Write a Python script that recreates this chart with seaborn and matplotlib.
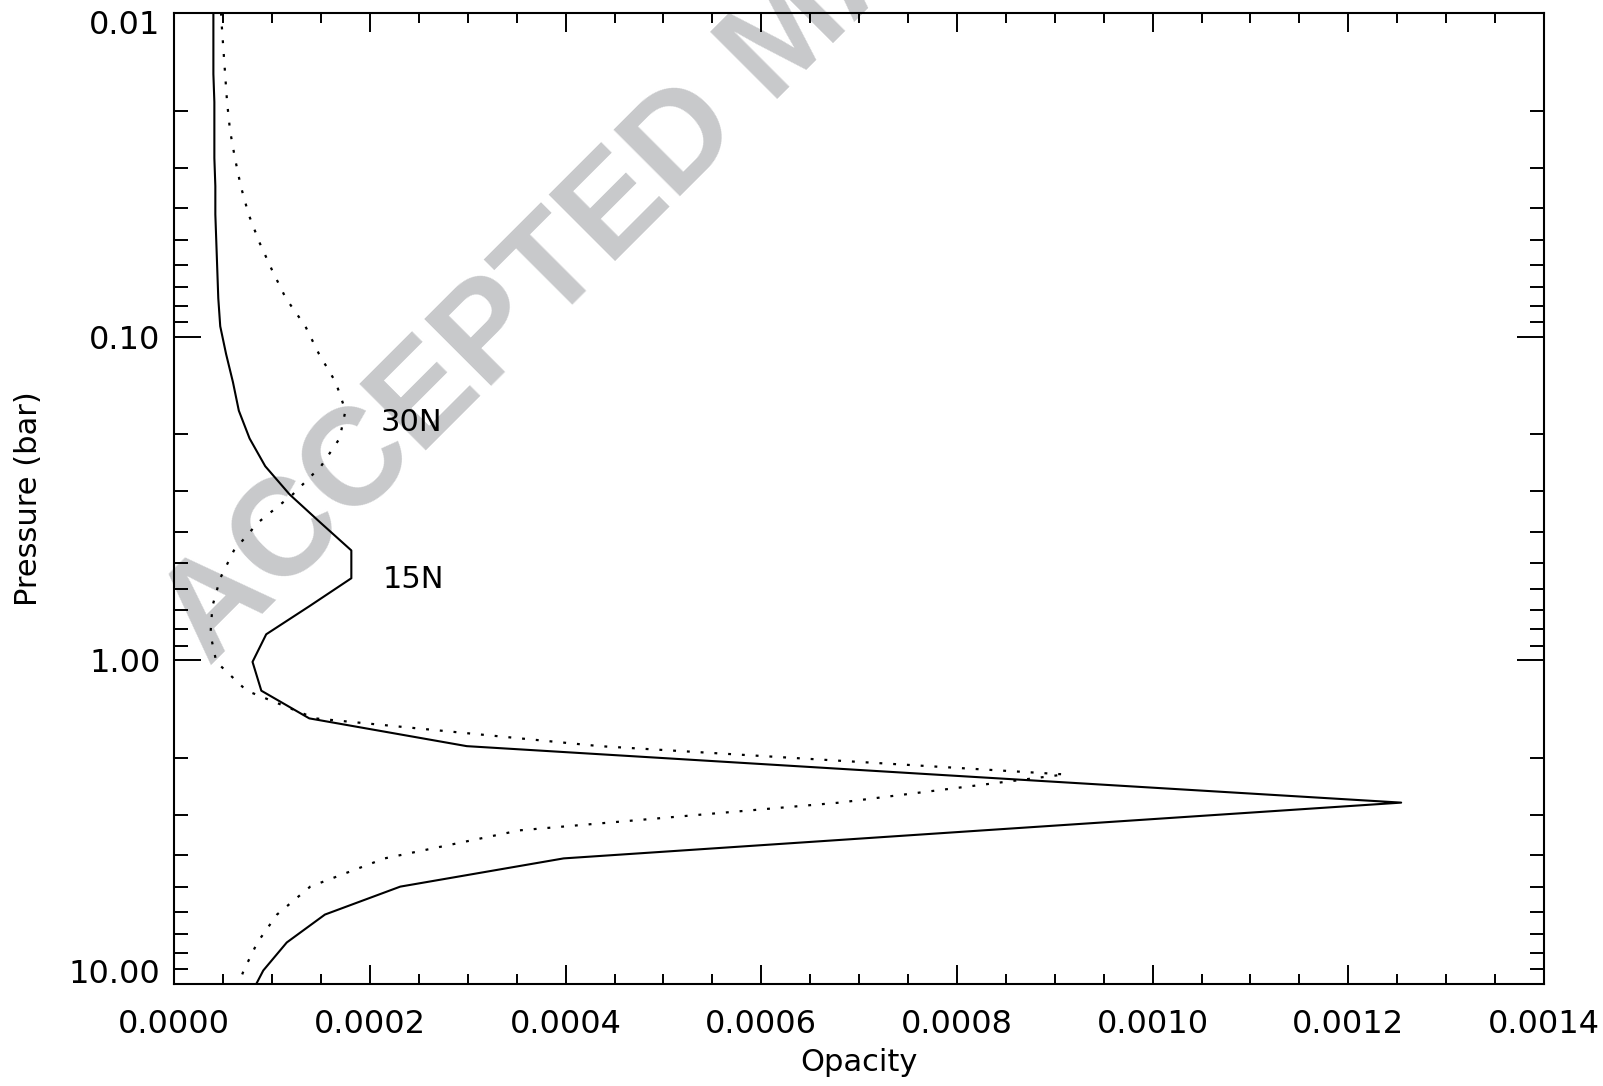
import numpy as np
import pandas as pd
import matplotlib
matplotlib.use("Agg")
import matplotlib.pyplot as plt
import matplotlib.ticker as mticker
import matplotlib.transforms as mtransforms
import seaborn as sns

# Pressure grid (bar) shared by both profiles
pressure = [0.00847, 0.0103, 0.0126, 0.0154, 0.0188, 0.0230, 0.0280, 0.0342,
            0.0418, 0.0510, 0.0622, 0.0759, 0.0927, 0.113, 0.138, 0.169,
            0.206, 0.251, 0.307, 0.374, 0.457, 0.557, 0.680, 0.830,
            1.01, 1.24, 1.51, 1.84, 2.25, 2.75, 3.35, 4.09,
            5.00, 6.10, 7.44, 9.08, 11.1]

# Opacity profiles
opacity_15n = [0.40e-4, 0.40e-4, 0.40e-4, 0.40e-4, 0.41e-4, 0.41e-4, 0.41e-4, 0.42e-4,
               0.42e-4, 0.43e-4, 0.44e-4, 0.45e-4, 0.47e-4, 0.53e-4, 0.60e-4, 0.66e-4,
               0.77e-4, 0.93e-4, 1.18e-4, 1.49e-4, 1.81e-4, 1.81e-4, 1.38e-4, 0.94e-4,
               0.80e-4, 0.89e-4, 1.38e-4, 2.99e-4, 7.75e-4, 12.54e-4, 8.27e-4, 3.98e-4,
               2.31e-4, 1.54e-4, 1.15e-4, 0.91e-4, 0.76e-4]
opacity_30n = [0.47e-4, 0.48e-4, 0.50e-4, 0.52e-4, 0.54e-4, 0.57e-4, 0.62e-4, 0.68e-4,
               0.76e-4, 0.87e-4, 1.00e-4, 1.14e-4, 1.34e-4, 1.48e-4, 1.65e-4, 1.75e-4,
               1.69e-4, 1.50e-4, 1.21e-4, 0.86e-4, 0.61e-4, 0.47e-4, 0.39e-4, 0.37e-4,
               0.43e-4, 0.74e-4, 1.44e-4, 4.35e-4, 9.10e-4, 6.80e-4, 3.53e-4, 2.15e-4,
               1.39e-4, 1.05e-4, 0.85e-4, 0.71e-4, 0.60e-4]

# Curve labels (text, opacity, pressure)
curve_labels = [("30N", 2.11e-4, 0.184), ("15N", 2.13e-4, 0.561)]

y_ticks = [0.01, 0.1, 1.0, 10.0]
y_ticklabels = ["0.01", "0.10", "1.00", "10.00"]
x_ticks = [0.0, 0.0002, 0.0004, 0.0006, 0.0008, 0.0010, 0.0012, 0.0014]

sns.set_theme(style="ticks")
plt.rcParams["font.family"] = ["DejaVu Sans"]

fig = plt.figure(figsize=(16.03, 10.86), dpi=100)
ax = fig.add_axes([0.1087, 0.0939, 0.8545, 0.8938])
ax.set_facecolor("none")

df15 = pd.DataFrame({"opacity": opacity_15n, "pressure": pressure})
df30 = pd.DataFrame({"opacity": opacity_30n, "pressure": pressure})

sns.lineplot(data=df15, x="opacity", y="pressure", sort=False, estimator=None,
             color="black", lw=1.5, ax=ax)
sns.lineplot(data=df30, x="opacity", y="pressure", sort=False, estimator=None,
             color="black", lw=1.6, linestyle=(0, (1.3, 4.9)), ax=ax)

for text, xv, yv in curve_labels:
    ax.text(xv, yv, text, fontsize=22, ha="left", va="center", color="black")

ax.set_yscale("log")
ax.set_xlim(0, 0.0014)
ax.set_ylim(10, 0.01)

ax.set_xticks(x_ticks)
ax.xaxis.set_major_formatter(mticker.FormatStrFormatter("%.4f"))
ax.xaxis.set_minor_locator(mticker.MultipleLocator(0.00005))
ax.yaxis.set_major_locator(mticker.FixedLocator(y_ticks))
ax.yaxis.set_major_formatter(mticker.FixedFormatter(y_ticklabels))
ax.yaxis.set_minor_locator(mticker.LogLocator(base=10, subs=np.arange(2, 10)))
ax.yaxis.set_minor_formatter(mticker.NullFormatter())

ax.tick_params(axis="both", which="both", direction="in", top=True, right=True,
               width=1.4, color="black", labelsize=23, labelcolor="black")
ax.tick_params(axis="x", which="major", length=13.7, pad=18)
ax.tick_params(axis="x", which="minor", length=7.2)
ax.tick_params(axis="y", which="major", length=19.4, pad=10)
ax.tick_params(axis="y", which="minor", length=10)

for spine in ax.spines.values():
    spine.set_color("black")
    spine.set_linewidth(1.5)

ax.set_xlabel("Opacity", fontsize=22, color="black")
ax.set_ylabel("Pressure (bar)", fontsize=22, color="black")
ax.xaxis.set_label_coords(0.5, -0.066)
ax.yaxis.set_label_coords(-0.096, 0.5)

# IDL nudges the end labels of the log axis inwards
yticks_objs = ax.yaxis.get_major_ticks()
yticks_objs[0].label1.set_transform(
    yticks_objs[0].label1.get_transform()
    + mtransforms.ScaledTranslation(0, -0.09, fig.dpi_scale_trans))
yticks_objs[-1].label1.set_transform(
    yticks_objs[-1].label1.get_transform()
    + mtransforms.ScaledTranslation(0, 0.13, fig.dpi_scale_trans))

# Journal watermark
fig.text(0.1305, 0.3855, "ACCEPTED MANUSCRIPT", rotation=45, rotation_mode="anchor",
         ha="left", va="baseline", fontsize=99, fontweight="bold",
         family=["Liberation Sans", "DejaVu Sans"], color="#c8c9cb", zorder=-1)

plt.savefig("out.png", dpi=100)
plt.close()
